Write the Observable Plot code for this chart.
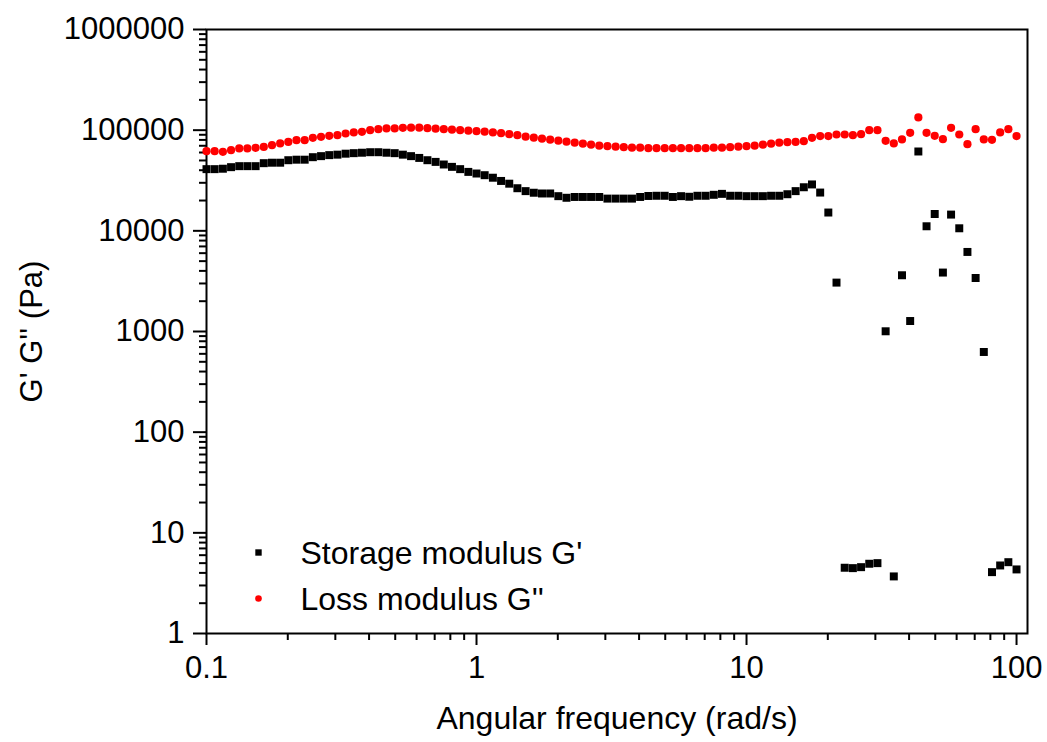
<!DOCTYPE html>
<html>
<head>
<meta charset="utf-8">
<script src="https://cdn.jsdelivr.net/npm/d3@7"></script>
<script src="https://cdn.jsdelivr.net/npm/@observablehq/plot@0.6"></script>
<style>
  html, body { margin: 0; padding: 0; background: #fff; }
  #chart { width: 1047px; height: 742px; }
</style>
</head>
<body>
<div id="chart"></div>
<script>
// Frequency sweep (rad/s)
const frequency = [
  0.1, 0.1072, 0.1150, 0.1233, 0.1322, 0.1417, 0.1520, 0.1630, 0.1748, 0.1874,
  0.2009, 0.2154, 0.2310, 0.2477, 0.2656, 0.2848, 0.3054, 0.3275, 0.3511, 0.3765,
  0.4037, 0.4329, 0.4642, 0.4977, 0.5337, 0.5722, 0.6136, 0.6579, 0.7055, 0.7565,
  0.8111, 0.8697, 0.9326, 1.000, 1.072, 1.150, 1.233, 1.322, 1.417, 1.520,
  1.630, 1.748, 1.874, 2.009, 2.154, 2.310, 2.477, 2.656, 2.848, 3.054,
  3.275, 3.511, 3.765, 4.037, 4.329, 4.642, 4.977, 5.337, 5.722, 6.136,
  6.579, 7.055, 7.565, 8.111, 8.697, 9.326, 10.00, 10.72, 11.50, 12.33,
  13.22, 14.17, 15.20, 16.30, 17.48, 18.74, 20.09, 21.54, 23.10, 24.77,
  26.56, 28.48, 30.54, 32.75, 35.11, 37.65, 40.37, 43.29, 46.42, 49.77,
  53.37, 57.22, 61.36, 65.79, 70.55, 75.65, 81.11, 86.97, 93.26, 100.0
];

// Storage modulus G' (Pa)
const storage = [
  41000, 41000, 41400, 42900, 43900, 43900, 43900, 47000, 47500, 47500,
  50300, 50900, 50900, 53900, 55200, 56500, 57100, 58400, 59100, 59700,
  60400, 60400, 59700, 59100, 57100, 55200, 53000, 50300, 48400, 45600,
  43200, 41000, 38500, 37100, 35700, 33700, 31300, 29400, 26500, 24800,
  23900, 23500, 23500, 22100, 21300, 21700, 21700, 21700, 21700, 20900,
  20900, 20900, 20900, 21700, 22200, 22300, 22300, 21700, 22100, 21800,
  22300, 22300, 22800, 23300, 22300, 22300, 22100, 22100, 22100, 22300,
  22300, 23100, 24800, 27100, 28900, 24000, 15200, 3060, 4.50, 4.46,
  4.56, 4.93, 5.00, 1005, 3.69, 3620, 1271, 61400, 11100, 14700,
  3850, 14500, 10600, 6170, 3400, 626, 4.07, 4.74, 5.11, 4.33
];

// Loss modulus G'' (Pa)
const loss = [
  61800, 61800, 60900, 63300, 65800, 65800, 66700, 68200, 71000, 73800,
  76500, 79600, 79600, 83900, 85800, 87800, 89200, 92700, 94900, 96200,
  100000, 102300, 104000, 104000, 105400, 105900, 105900, 104700, 103500, 102300,
  101200, 100000, 98900, 97700, 96600, 94900, 93400, 91300, 89200, 86200,
  84200, 82300, 80500, 78700, 76900, 75100, 73400, 71800, 70200, 69300,
  68500, 67800, 67000, 67000, 66300, 66300, 66300, 66300, 66300, 66300,
  66300, 66300, 67000, 67000, 67800, 68500, 69300, 70200, 71800, 73400,
  75100, 76000, 76500, 77800, 83900, 87300, 87300, 90600, 90600, 89200,
  91300, 100000, 100000, 78300, 73800, 81000, 94100, 133700, 94000, 87800,
  81400, 105400, 90600, 72600, 102300, 81000, 80100, 94900, 102300, 87300
];

// Axis tick labels
const xTicks = [0.1, 1, 10, 100];
const yTicks = [1, 10, 100, 1000, 10000, 100000, 1000000];

// Legend entries
const legendLabels = ["Storage modulus G'", "Loss modulus G''"];
const legendColors = ["#000000", "#ff0000"];

const data = frequency.map((f, i) => ({f, storage: storage[i], loss: loss[i]}));

// Minor log ticks (2..9 within each decade)
const minorX = [];
for (const d of [0.1, 1, 10]) for (let k = 2; k <= 9; k++) minorX.push(+(d * k).toPrecision(3));
const minorY = [];
for (const d of [1, 10, 100, 1000, 10000, 100000]) for (let k = 2; k <= 9; k++) minorY.push(d * k);

const font = "'Liberation Sans', Arial, Helvetica, sans-serif";

const chart = Plot.plot({
  width: 1047,
  height: 742,
  marginLeft: 206,
  marginRight: 20,
  marginTop: 29,
  marginBottom: 109,
  style: {fontFamily: font, background: "#fff", color: "#000", overflow: "visible"},
  x: {type: "log", domain: [0.1, 109.8], label: null},
  y: {type: "log", domain: [1, 1e6], label: null},
  marks: [
    Plot.axisX(minorX, {anchor: "bottom", tickSize: 7, tickFormat: () => "", label: null, strokeWidth: 2}),
    Plot.axisX(xTicks, {anchor: "bottom", tickSize: 12, tickPadding: 10, tickFormat: d => String(d), fontSize: 31, label: null, strokeWidth: 2}),
    Plot.axisY(minorY, {anchor: "left", tickSize: 7, tickFormat: () => "", label: null, strokeWidth: 2}),
    Plot.axisY(yTicks, {anchor: "left", tickSize: 13, tickPadding: 9, tickFormat: d => String(d), fontSize: 31, label: null, strokeWidth: 2}),
    Plot.frame({stroke: "#000", strokeWidth: 2}),
    Plot.dot(data, {x: "f", y: "storage", symbol: "square", r: 4.5, fill: legendColors[0], stroke: null}),
    Plot.dot(data, {x: "f", y: "loss", symbol: "circle", r: 4.1, fill: legendColors[1], stroke: null}),
    // legend
    Plot.dot([0], {frameAnchor: "bottom-left", dx: 52, dy: -81, symbol: "square", r: 3.6, fill: legendColors[0]}),
    Plot.dot([0], {frameAnchor: "bottom-left", dx: 52, dy: -35, symbol: "circle", r: 3.3, fill: legendColors[1]}),
    Plot.text([legendLabels[0]], {text: d => d, frameAnchor: "bottom-left", dx: 94, dy: -80, textAnchor: "start", lineAnchor: "middle", fontSize: 32, fill: "#000"}),
    Plot.text([legendLabels[1]], {text: d => d, frameAnchor: "bottom-left", dx: 94, dy: -34, textAnchor: "start", lineAnchor: "middle", fontSize: 32, fill: "#000"}),
    // axis titles
    Plot.text(["Angular frequency (rad/s)"], {text: d => d, frameAnchor: "bottom", dy: 85, textAnchor: "middle", lineAnchor: "middle", fontSize: 32, fill: "#000"}),
    Plot.text(["G' G'' (Pa)"], {text: d => d, frameAnchor: "left", dx: -174, rotate: -90, textAnchor: "middle", lineAnchor: "middle", fontSize: 31, fill: "#000"})
  ]
});

document.getElementById("chart").appendChild(chart);
</script>
</body>
</html>
